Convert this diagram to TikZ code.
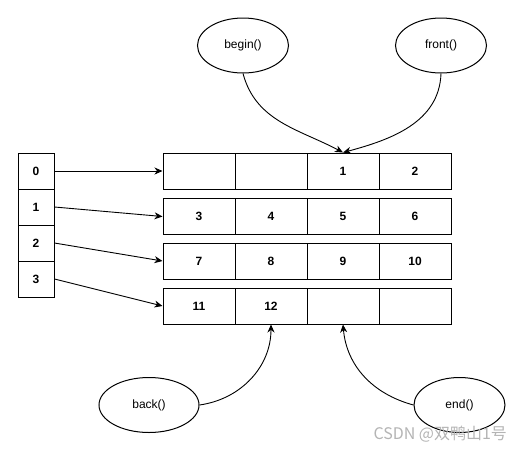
\documentclass[tikz,border=0pt]{standalone}
\usepackage{fontspec}
\setmainfont{Liberation Sans}
\newfontfamily\cjk{Noto Sans CJK SC}
\usetikzlibrary{arrows.meta, positioning, shapes.geometric}
\definecolor{cline}{HTML}{000000}
\definecolor{cmark}{HTML}{B4B4B4}
\tikzset{
  every picture/.style={font=\fontsize{12}{14}\selectfont, line width=1pt},
  cell/.style={draw=cline, rectangle, minimum width=#1, minimum height=36pt, inner sep=0pt, font=\fontsize{12}{14}\selectfont\bfseries},
  cell/.default=72pt,
  oval/.style={draw=cline, ellipse, minimum width=91pt, minimum height=55pt, inner sep=0pt},
  arrow/.style={-{Stealth[length=8pt, width=7pt, inset=2.5pt]}, draw=cline, line width=0.9pt},
}
\begin{document}
\begin{tikzpicture}[x=1pt, y=-1pt]
  \useasboundingbox (0,0) rectangle (523,451);
  % map: four pointers
  \foreach \i in {0,...,3}
    \node[cell=36pt] (m\i) at (36, 171+\i*36) {\i};
  % blocks: four rows of four cells
  \foreach \r/\y/\vals in {0/171/{,,1,2}, 1/216.5/{3,4,5,6}, 2/261/{7,8,9,10}, 3/306/{11,12,,}} {
    \foreach \v [count=\c from 0] in \vals
      \node[cell] (b\r-\c) at (199+\c*72, \y) {\v};
  }
  % map -> blocks
  \foreach \i in {0,...,3}
    \draw[arrow] (m\i.east) -- (b\i-0.west);
  % iterators
  \node[oval] (eBegin) at (243, 45.5) {begin()};
  \node[oval] (eFront) at (441, 45.5) {front()};
  \node[oval, minimum width=100pt] (eBack) at (149, 405) {back()};
  \node[oval] (eEnd) at (459.5, 405) {end()};
  \draw[arrow] (eBegin.south) to[out=-75, in=152] (b0-2.north);
  \draw[arrow] (eFront.south) to[out=-92, in=15] (b0-2.north);
  \draw[arrow] (eBack.east) to[out=8, in=-90] (b3-1.south);
  \draw[arrow] (eEnd.west) to[out=165, in=-85] (b3-2.south);
  % watermark
  \node[anchor=west, text=cmark, font=\cjk\fontsize{16}{18}\selectfont, inner sep=0pt] (mark) at (373, 434) {CSDN @双鸭山1号};
\end{tikzpicture}
\end{document}
